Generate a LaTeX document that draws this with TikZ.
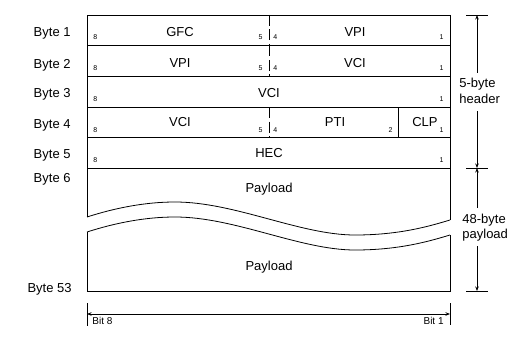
\documentclass[tikz,border=0pt]{standalone}
\usepackage{fontspec}
\setmainfont{Liberation Sans}
\usetikzlibrary{arrows.meta}
\begin{document}
\begin{tikzpicture}[x=1pt,y=-1pt,line width=0.8pt,
  field/.style={font=\fontsize{13}{15}\selectfont, anchor=base, inner sep=0pt},
  bytelbl/.style={font=\fontsize{13}{15}\selectfont, anchor=base east, inner sep=0pt},
  dimlbl/.style={font=\fontsize{13}{15}\selectfont, anchor=base west, inner sep=0pt},
  bitl/.style={font=\fontsize{7}{8}\selectfont, anchor=base west, inner sep=0pt},
  bitr/.style={font=\fontsize{7}{8}\selectfont, anchor=base east, inner sep=0pt},
  bitlbl/.style={font=\fontsize{10}{12}\selectfont, inner sep=0pt},
  divider/.style={dash pattern=on 11pt off 3.5pt},
  dimarrow/.style={-{Stealth[length=4.5pt,width=3.5pt]}, line width=0.8pt},
  dimarrows/.style={{Stealth[length=4.5pt,width=3.5pt]}-{Stealth[length=4.5pt,width=3.5pt]}, line width=0.8pt}]
\useasboundingbox (0,0) rectangle (529,342);

% coordinates of the cell frame
\coordinate (TL) at (87,15);
\coordinate (TR) at (450,15);
\coordinate (BL) at (87,291);
\coordinate (BR) at (450,291);

% header rows
\draw (TL) -- (TR);
\foreach \y in {45.5,76,107,137.5,168} \draw (87,\y) -- (450,\y);
\draw[divider] (269,15) -- (269,45.5);
\draw[divider] (269,45.5) -- (269,76);
\draw[divider] (269,107) -- (269,137.5);
\draw (398,107) -- (398,137.5);

% outline with break
\draw (87,217) -- (TL);
\draw (TR) -- (450,220);
\draw (87,217) .. controls (115,208) and (145,202) .. (175,202)
  .. controls (235,202) and (300,235) .. (355,235)
  .. controls (400,235) and (430,226) .. (450,220);
\draw (87,232) .. controls (115,223) and (145,217) .. (175,217)
  .. controls (235,217) and (300,250) .. (355,250)
  .. controls (400,250) and (430,241) .. (450,235);
\draw (87,232) -- (BL) -- (BR) -- (450,235);

% field labels
\node[field] (gfc) at (180,37) {GFC};
\node[field] (vpi1) at (355,37) {VPI};
\node[field] (vpi2) at (180,68) {VPI};
\node[field] (vci2) at (355,68) {VCI};
\node[field] (vci3) at (269,98) {VCI};
\node[field] (vci4) at (180,126.5) {VCI};
\node[field] (pti) at (335,126.5) {PTI};
\node[field] (clp) at (425,126.5) {CLP};
\node[field] (hec) at (269,157) {HEC};
\node[field] (pl1) at (269,192.5) {Payload};
\node[field] (pl2) at (269,270) {Payload};

% bit numbers
\foreach \y [count=\i] in {40,70.5,101,132,162.5} {
  \node[bitl] (e\i) at (93,\y) {8};
  \node[bitr] (o\i) at (444,\y) {1};
}
\foreach \y [count=\i] in {40,70.5,132} {
  \node[bitr] (f\i) at (263,\y) {5};
  \node[bitl] (g\i) at (273,\y) {4};
}
\node[bitr] (two) at (393,132) {2};

% byte labels
\node[bytelbl] (b1) at (71,37) {Byte 1};
\node[bytelbl] (b2) at (71,68.5) {Byte 2};
\node[bytelbl] (b3) at (71,98) {Byte 3};
\node[bytelbl] (b4) at (71,128) {Byte 4};
\node[bytelbl] (b5) at (71,158.5) {Byte 5};
\node[bytelbl] (b6) at (71,182.5) {Byte 6};
\node[bytelbl] (b53) at (72,292.5) {Byte 53};

% right dimension
\coordinate (r0) at (477,15);
\coordinate (r1) at (477,168);
\coordinate (r2) at (477,291);
\coordinate (h0) at (477,73);
\coordinate (h1) at (477,111);
\coordinate (p0) at (477,208);
\coordinate (p1) at (477,246);
\draw (466,15) -- (488,15);
\draw (466,168) -- (488,168);
\draw (466,291) -- (488,291);
\draw[dimarrow] (h0) -- (r0);
\draw[dimarrow] (h1) -- (r1);
\draw[dimarrow] (p0) -- (r1);
\draw[dimarrow] (p1) -- (r2);
\node[dimlbl] (hdr1) at (459,88) {5-byte};
\node[dimlbl] (hdr2) at (459,103) {header};
\node[dimlbl] (pay1) at (462,223.5) {48-byte};
\node[dimlbl] (pay2) at (462,238.5) {payload};

% bottom dimension
\coordinate (bl) at (87,314);
\coordinate (br) at (450,314);
\draw (87,303) -- (87,326);
\draw (450,303) -- (450,325);
\draw[dimarrows] (bl) -- (br);
\node[bitlbl, anchor=base west] (bit8) at (92,324.5) {Bit 8};
\node[bitlbl, anchor=base east] (bit1) at (444,324.5) {Bit 1};
\end{tikzpicture}
\end{document}
